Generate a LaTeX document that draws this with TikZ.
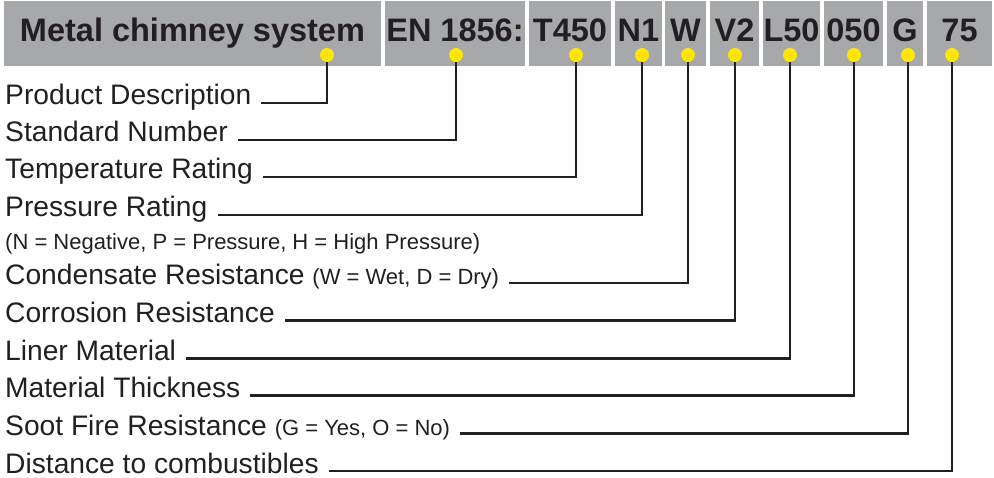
\documentclass[tikz,border=0pt]{standalone}
\usepackage{fontspec}
\setmainfont{Liberation Sans}
\definecolor{boxgray}{RGB}{167,168,172}
\definecolor{ink}{RGB}{35,31,32}
\definecolor{dotyellow}{RGB}{255,230,0}
\begin{document}
\begin{tikzpicture}[x=1pt,y=-1pt,
  hbox/.style={fill=boxgray},
  htext/.style={anchor=base,inner sep=0pt,text=ink,font=\fontsize{32.5}{36}\selectfont\bfseries},
  lbl/.style={anchor=base west,inner sep=0pt,text=ink,font=\fontsize{28.2}{32}\selectfont},
  dot/.style={circle,fill=dotyellow,inner sep=0pt,minimum size=14pt},
  conn/.style={draw=ink,line width=2.8pt}]
\useasboundingbox (0,0) rectangle (994,478);
% header boxes
\fill[hbox] (4,1) rectangle (381,66);
\fill[hbox] (385,1) rectangle (525,66);
\fill[hbox] (529,1) rectangle (611,66);
\fill[hbox] (615,1) rectangle (662,66);
\fill[hbox] (665,1) rectangle (706,66);
\fill[hbox] (710,1) rectangle (759,66);
\fill[hbox] (763,1) rectangle (820,66);
\fill[hbox] (824,1) rectangle (883,66);
\fill[hbox] (887,1) rectangle (923,66);
\fill[hbox] (927,1) rectangle (992,66);
\node[htext] (h1) at (192.5,42) {Metal chimney system};
\node[htext] (h2) at (455,42) {EN 1856:};
\node[htext] (h3) at (570,42) {T450};
\node[htext] (h4) at (638.5,42) {N1};
\node[htext] (h5) at (685.5,42) {W};
\node[htext] (h6) at (734.5,42) {V2};
\node[htext] (h7) at (791.5,42) {L50};
\node[htext] (h8) at (853.5,42) {050};
\node[htext] (h9) at (905,42) {G};
\node[htext] (h10) at (959.5,42) {75};
% labels
\node[lbl] (t1) at (5,105) {Product Description};
\node[lbl] (t2) at (5,142) {Standard Number};
\node[lbl] (t3) at (5,179) {Temperature Rating};
\node[lbl] (t4) at (5,217) {Pressure Rating};
\node[lbl,font=\fontsize{22}{26}\selectfont] (t4b) at (5,250) {(N = Negative, P = Pressure, H = High Pressure)};
\node[lbl] (t5) at (5,285) {Condensate Resistance {\fontsize{22}{26}\selectfont (W = Wet, D = Dry)}};
\node[lbl] (t6) at (5,322.6) {Corrosion Resistance};
\node[lbl] (t7) at (5,360.2) {Liner Material};
\node[lbl] (t8) at (5,397.8) {Material Thickness};
\node[lbl] (t9) at (5,435.4) {Soot Fire Resistance {\fontsize{22}{26}\selectfont (G = Yes, O = No)}};
\node[lbl] (t10) at (5,473) {Distance to combustibles};
% dots positions
\coordinate (d1) at (327,55);
\coordinate (d2) at (456,55);
\coordinate (d3) at (576,55);
\coordinate (d4) at (642,55);
\coordinate (d5) at (688,55);
\coordinate (d6) at (735,55);
\coordinate (d7) at (790,55);
\coordinate (d8) at (854,55);
\coordinate (d9) at (908,55);
\coordinate (d10) at (952,55);
% connectors
\foreach \i in {1,...,10}{
  \draw[conn] (d\i) |- ([xshift=10pt,yshift=2pt]t\i.base east);
}
% dots
\foreach \i in {1,...,10}{
  \node[dot] (dd\i) at (d\i) {};
}
\end{tikzpicture}
\end{document}
